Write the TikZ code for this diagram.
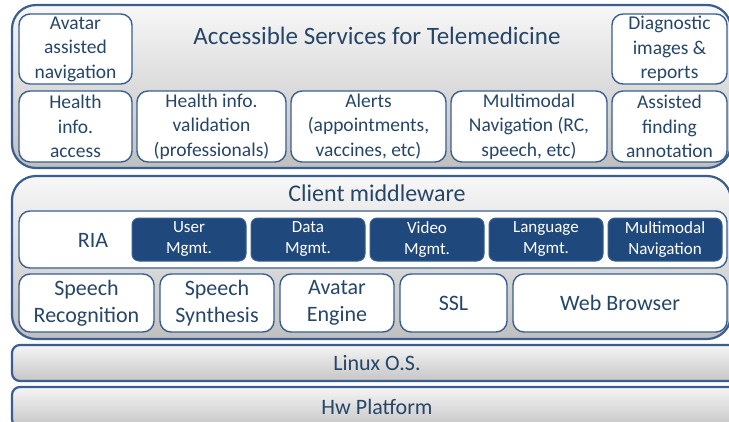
\documentclass[tikz,border=0pt]{standalone}
\usepackage{fontspec}
\setmainfont{Carlito}
\usetikzlibrary{positioning}

\definecolor{edgeblue}{HTML}{3A5F8E}
\definecolor{modblue}{HTML}{1F497D}
\definecolor{labelblue}{HTML}{264668}

\begin{document}
\begin{tikzpicture}[
x=1pt, y=-1pt,
node distance=5pt,
every node/.style={text=labelblue, outer sep=0pt, inner sep=0pt},
layer/.style={draw=edgeblue, line width=2.2pt, rounded corners=24pt, top color=gray!6, bottom color=gray!50, anchor=north west, minimum width=719pt, minimum height=163pt},
base/.style={draw=edgeblue, line width=2.2pt, rounded corners=8pt, top color=gray!8, bottom color=gray!45, anchor=north west, minimum width=730pt, font=\fontsize{22}{27}\selectfont},
box/.style={draw=edgeblue, line width=1.4pt, rounded corners=11pt, fill=white, align=center, font=\fontsize{19.5}{24.5}\selectfont},
module/.style={draw=edgeblue, line width=1pt, rounded corners=7pt, fill=modblue, text=white, align=center, minimum height=43pt, minimum width=114pt, font=\fontsize{17}{21}\selectfont},
comp/.style={box, minimum height=58pt, font=\fontsize{22}{27.5}\selectfont}
]
\useasboundingbox (0,0) rectangle (729,421);

% ---------- SERVICES LAYER ----------

\node[layer] (services) at (12,5) {};
\node[font=\fontsize{25}{30}\selectfont] (servtitle) at (377,36)
{Accessible Services for Telemedicine};

\node[box, anchor=north west, minimum width=113pt, minimum height=70pt] (avatarnav) at (19,14)
{Avatar\\assisted\\navigation};
\node[box, anchor=north west, minimum width=115pt, minimum height=70pt] (diagnostic) at (612,14)
{Diagnostic\\images \&\\reports};

\node[box, anchor=north west, minimum width=113pt, minimum height=71pt] (access) at (19,91)
{Health\\info.\\access};
\node[box, right=of access, minimum width=149pt, minimum height=71pt] (validation)
{Health info.\\validation\\(professionals)};
\node[box, right=of validation, minimum width=155pt, minimum height=71pt] (alerts)
{Alerts\\(appointments,\\vaccines, etc)};
\node[box, right=of alerts, minimum width=156pt, minimum height=71pt] (mmnav)
{Multimodal\\Navigation (RC,\\speech, etc)};
\node[box, right=of mmnav, minimum width=115pt, minimum height=71pt] (annotation)
{Assisted\\finding\\annotation};

% ---------- CLIENT MIDDLEWARE ----------

\node[layer] (middleware) at (12,176) {};
\node[font=\fontsize{24}{29}\selectfont] (mwtitle) at (377,193)
{Client middleware};

\node[box, anchor=north west, minimum width=708pt, minimum height=57pt] (ria) at (19,211) {};
\node[font=\fontsize{22}{27}\selectfont] (rialabel) at (93,240) {RIA};

\node[module, anchor=north west] (usermgmt) at (132,218) {User\\Mgmt.};
\node[module, right=of usermgmt] (datamgmt) {Data\\Mgmt.};
\node[module, right=of datamgmt] (videomgmt) {Video\\Mgmt.};
\node[module, right=of videomgmt] (langmgmt) {Language\\Mgmt.};
\node[module, right=of langmgmt] (mmodule) {Multimodal\\Navigation};

\node[comp, anchor=north west, minimum width=135pt] (recognition) at (19,274)
{Speech\\Recognition};
\node[comp, right=6pt of recognition, minimum width=114pt] (synthesis)
{Speech\\Synthesis};
\node[comp, right=6pt of synthesis, minimum width=114pt] (engine)
{Avatar\\Engine};
\node[comp, right=6pt of engine, minimum width=107pt] (ssl)
{SSL};
\node[comp, right=6pt of ssl, minimum width=214pt] (browser)
{Web Browser};

% ---------- PLATFORM ----------

\node[base, minimum height=36pt] (linux) at (12,345) {Linux O.S.};
\node[base, minimum height=40pt] (hw) at (12,387) {Hw Platform};

\end{tikzpicture}
\end{document}
